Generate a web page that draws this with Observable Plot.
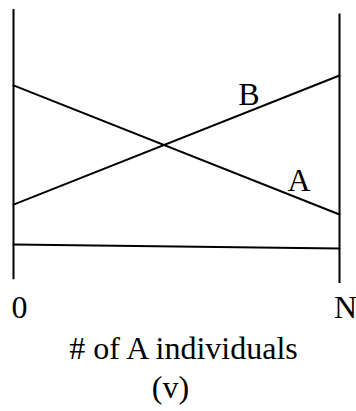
<!DOCTYPE html>
<html>
<head>
<meta charset="utf-8">
<script src="https://cdn.jsdelivr.net/npm/d3@7"></script>
<script src="https://cdn.jsdelivr.net/npm/@observablehq/plot@0.6"></script>
<style>
  html, body { margin: 0; padding: 0; background: #fff; }
</style>
</head>
<body>
<div id="chart"></div>
<script>
// x: number of A individuals, from 0 to N (normalised 0..1); y: fitness (arbitrary units)
const xEnds = [0, 1];
const tickLabels = ["0", "N"];
const fitnessA = [72.3, 25.2];
const fitnessB = [28.8, 75.9];
const fitnessBase = [14.2, 12.8];
const seriesNames = ["A", "B", "base"];
const lineLabels = ["A", "B"];
const labelX = [0.876, 0.722];
const labelY = [33.9, 65.0];
const axisTitle = "# of A individuals";
const panelLabel = "(v)";

// vertical bounding lines at x = 0 and x = N
const boundX = [0, 1];
const boundY1 = [1.35, 0];
const boundY2 = [100, 98.4];

const series = [fitnessA, fitnessB, fitnessBase];
const lineData = series.flatMap((vals, s) =>
  vals.map((v, i) => ({series: seriesNames[s], x: xEnds[i], y: v})));
const bounds = boundX.map((x, i) => ({x, y1: boundY1[i], y2: boundY2[i]}));
const labels = lineLabels.map((t, i) => ({t, x: labelX[i], y: labelY[i]}));
const ticks = xEnds.map((x, i) => ({x, t: tickLabels[i]}));

const font = "'Liberation Serif', 'Times New Roman', serif";
const fs = 32;

const chart = Plot.plot({
  width: 356,
  height: 411,
  marginLeft: 13,
  marginRight: 17,
  marginTop: 9,
  marginBottom: 128,
  x: {domain: [0, 1], axis: null},
  y: {domain: [0, 100], axis: null},
  marks: [
    Plot.ruleX(bounds, {x: "x", y1: "y1", y2: "y2", stroke: "#000", strokeWidth: 2}),
    Plot.line(lineData, {x: "x", y: "y", z: "series", stroke: "#000", strokeWidth: 2}),
    Plot.text(labels, {x: "x", y: "y", text: "t", lineAnchor: "bottom", fontSize: fs, fontFamily: font, fill: "#000"}),
    Plot.text(ticks, {x: "x", text: "t", frameAnchor: "bottom", lineAnchor: "bottom", dy: 34, dx: 6, fontSize: fs, fontFamily: font, fill: "#000"}),
    Plot.text([axisTitle], {frameAnchor: "bottom", lineAnchor: "bottom", dy: 75, dx: 7, fontSize: fs, fontFamily: font, fill: "#000"}),
    Plot.text([panelLabel], {frameAnchor: "bottom", lineAnchor: "bottom", dy: 114, dx: -6, fontSize: fs, fontFamily: font, fill: "#000"})
  ]
});
document.getElementById("chart").appendChild(chart);
</script>
</body>
</html>
